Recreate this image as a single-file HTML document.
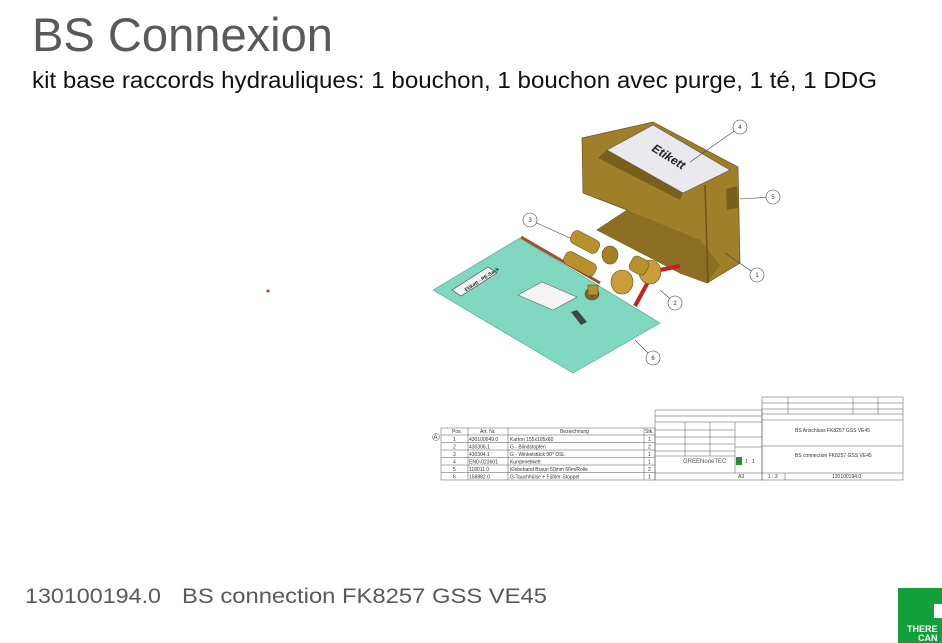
<!DOCTYPE html>
<html><head><meta charset="utf-8"><style>
html,body{margin:0;padding:0;background:#fff;}
svg{display:block;}
text{font-family:"Liberation Sans",sans-serif;}
.t{font-size:5px;fill:#333;}
</style></head><body>
<svg width="942" height="643" viewBox="0 0 942 643" xmlns="http://www.w3.org/2000/svg">
<text x="32" y="51" font-size="47" fill="#595959" textLength="301" lengthAdjust="spacingAndGlyphs">BS Connexion</text>
<text x="32" y="88" font-size="23" fill="#111" textLength="845" lengthAdjust="spacingAndGlyphs">kit base raccords hydrauliques: 1 bouchon, 1 bouchon avec purge, 1 té, 1 DDG</text>
<text x="25" y="603" font-size="21" fill="#595959" textLength="136" lengthAdjust="spacingAndGlyphs">130100194.0</text>
<text x="182" y="603" font-size="21" fill="#595959" textLength="365" lengthAdjust="spacingAndGlyphs">BS connection FK8257 GSS VE45</text>
<circle cx="268" cy="291" r="1.5" fill="#d22"/>

<!-- mat -->
<polygon points="433,290 520,238 660,323 573,373" fill="#80d8c0" stroke="#5a9" stroke-width="0.7"/>
<polygon points="452,290 488,267 497,273 461,296" fill="#f2f2f2" stroke="#444" stroke-width="0.6"/>
<text x="462" y="288" font-size="5" font-weight="bold" fill="#222" transform="rotate(-33 470 283)">Etikett - PE-Sack</text>
<polygon points="518,295 542,282 577,297 553,310" fill="#f4f4f4" stroke="#666" stroke-width="0.6"/>
<polygon points="571,312 577,310 587,322 581,325" fill="#444"/>
<!-- rod -->
<line x1="521" y1="237" x2="600" y2="283" stroke="#a0502a" stroke-width="3"/>
<!-- box -->
<polygon points="582,138 653,122 738,167 740,263 707,283 680,273 597,230 627,210 583,193" fill="#a07f2a" stroke="#6a5218" stroke-width="0.7"/>
<polygon points="597,230 627,210 700,240 720,265 707,283 680,273" fill="#8c6e22"/>
<polygon points="598,158 607,150 683,193 680,200" fill="#7a5f1c"/>
<polygon points="607,150 653,125 730,170 683,193" fill="#e9e9ee" stroke="#555" stroke-width="0.6"/>
<text x="648" y="161" font-size="12" font-style="italic" font-weight="bold" fill="#222" transform="rotate(32 668 161)">Etikett</text>
<polygon points="726,189 737,186 738,208 727,210" fill="#7a5f1c"/>
<line x1="705" y1="185" x2="708" y2="283" stroke="#6a5218" stroke-width="1.5"/>
<!-- red strap -->
<path d="M635,306 L648,282 L660,270 L680,266" fill="none" stroke="#c8201e" stroke-width="4"/>
<!-- fittings -->
<g fill="#b8902e" stroke="#6a5218" stroke-width="0.6">
<rect x="570" y="235" width="30" height="14" rx="5" transform="rotate(28 585 242)"/>
<ellipse cx="610" cy="255" rx="8" ry="9" fill="#a68024"/>
<rect x="563" y="257" width="34" height="14" rx="5" transform="rotate(28 580 264)"/>
<ellipse cx="592" cy="294" rx="7" ry="6" fill="#7a6530"/>
<rect x="588" y="285" width="10" height="10" fill="#b8902e"/>
<ellipse cx="622" cy="282" rx="11" ry="12" fill="#c89d3a"/>
<ellipse cx="650" cy="272" rx="11" ry="12" fill="#c89d3a"/>
<rect x="630" y="258" width="18" height="16" rx="5" transform="rotate(28 640 266)"/>
</g>
<!-- callouts -->
<g fill="#fff" stroke="#444" stroke-width="0.6">
<line x1="740" y1="127" x2="690" y2="162"/><circle cx="740" cy="127" r="7"/>
<line x1="773" y1="197" x2="740" y2="199"/><circle cx="773" cy="197" r="7"/>
<line x1="757" y1="275" x2="725" y2="253"/><circle cx="757" cy="275" r="7"/>
<line x1="675" y1="303" x2="660" y2="290"/><circle cx="675" cy="303" r="7"/>
<line x1="530" y1="220" x2="570" y2="238"/><circle cx="530" cy="220" r="7"/>
<line x1="653" y1="358" x2="635" y2="340"/><circle cx="653" cy="358" r="7"/>
</g>
<g font-size="6" text-anchor="middle" fill="#333">
<text x="740" y="129">4</text><text x="773" y="199">5</text><text x="757" y="277">1</text><text x="675" y="305">2</text><text x="530" y="222">3</text><text x="653" y="360">6</text>
</g>

<!-- parts table -->
<g stroke="#555" stroke-width="0.5" fill="none">
<rect x="441" y="428" width="214" height="52"/>
<line x1="441" y1="435" x2="655" y2="435"/><line x1="441" y1="442.5" x2="655" y2="442.5"/>
<line x1="441" y1="450" x2="655" y2="450"/><line x1="441" y1="457.5" x2="655" y2="457.5"/>
<line x1="441" y1="465" x2="655" y2="465"/><line x1="441" y1="472.5" x2="655" y2="472.5"/>
<line x1="468" y1="428" x2="468" y2="480"/><line x1="508" y1="428" x2="508" y2="480"/><line x1="644" y1="428" x2="644" y2="480"/>
<rect x="655" y="410" width="107" height="70"/>
<line x1="655" y1="416" x2="762" y2="416"/><line x1="655" y1="422" x2="762" y2="422"/>
<line x1="655" y1="430" x2="735" y2="430"/><line x1="655" y1="437" x2="735" y2="437"/>
<line x1="655" y1="444" x2="735" y2="444"/><line x1="655" y1="451" x2="735" y2="451"/>
<line x1="655" y1="456" x2="735" y2="456"/><line x1="655" y1="473" x2="762" y2="473"/>
<line x1="685" y1="422" x2="685" y2="456"/><line x1="710" y1="422" x2="710" y2="456"/><line x1="735" y1="422" x2="735" y2="473"/>
<line x1="735" y1="437" x2="762" y2="437"/><line x1="735" y1="447" x2="762" y2="447"/>
<rect x="762" y="397" width="141" height="83"/>
<line x1="762" y1="403" x2="903" y2="403"/><line x1="762" y1="409" x2="903" y2="409"/>
<line x1="762" y1="414" x2="903" y2="414"/><line x1="762" y1="420" x2="903" y2="420"/>
<line x1="762" y1="446" x2="903" y2="446"/><line x1="762" y1="473" x2="903" y2="473"/>
<line x1="785" y1="473" x2="785" y2="480"/>
<line x1="788" y1="397" x2="788" y2="414"/><line x1="853" y1="397" x2="853" y2="414"/><line x1="878" y1="397" x2="878" y2="414"/>
<circle cx="436" cy="437" r="3.5"/>
</g>
<rect x="736" y="457" width="6" height="8" fill="#2a8a3a"/>
<g class="t">
<text x="452" y="433">Pos.</text><text x="480" y="433">Art. Nr.</text><text x="560" y="433">Bezeichnung</text><text x="645" y="433">Stk.</text>
<text x="453" y="441">1</text><text x="469" y="441">430100049.0</text><text x="510" y="441">Karton 155x105x60</text><text x="648" y="441">1</text>
<text x="453" y="448.5">2</text><text x="469" y="448.5">430306.1</text><text x="510" y="448.5">G - Blindstopfen</text><text x="648" y="448.5">2</text>
<text x="453" y="456">3</text><text x="469" y="456">430304.1</text><text x="510" y="456">G - Winkelstück 90° DSL</text><text x="648" y="456">1</text>
<text x="453" y="463.5">4</text><text x="469" y="463.5">END-023601</text><text x="510" y="463.5">Kundenetikett</text><text x="648" y="463.5">1</text>
<text x="453" y="471">5</text><text x="469" y="471">118011.0</text><text x="510" y="471">Klebeband Braun 50mm 66m/Rolle</text><text x="648" y="471">2</text>
<text x="453" y="478.5">6</text><text x="469" y="478.5">158882.0</text><text x="510" y="478.5">G-Tauchhülse + Fühler-Stoppel</text><text x="648" y="478.5">1</text>
<text x="433.5" y="439" font-size="6">A</text>
<text x="683" y="463" font-size="6" fill="#555">GREENoneTEC</text>
<text x="745" y="463">1 : 1</text>
<text x="738" y="478">A3</text><text x="768" y="478">1 : 2</text>
<text x="795" y="432">BS Anschluss FK8257 GSS VE45</text>
<text x="795" y="457">BS connection FK8257 GSS VE45</text>
<text x="832" y="478">130100194.0</text>
</g>

<!-- logo -->
<rect x="898" y="588" width="44" height="55" fill="#12a03c"/>
<rect x="934" y="604" width="8" height="14" fill="#fff"/>
<text x="907" y="632" font-size="9" font-weight="bold" fill="#fff">THERE</text>
<text x="918" y="641" font-size="9" font-weight="bold" fill="#fff">CAN</text>
</svg>
</body></html>
